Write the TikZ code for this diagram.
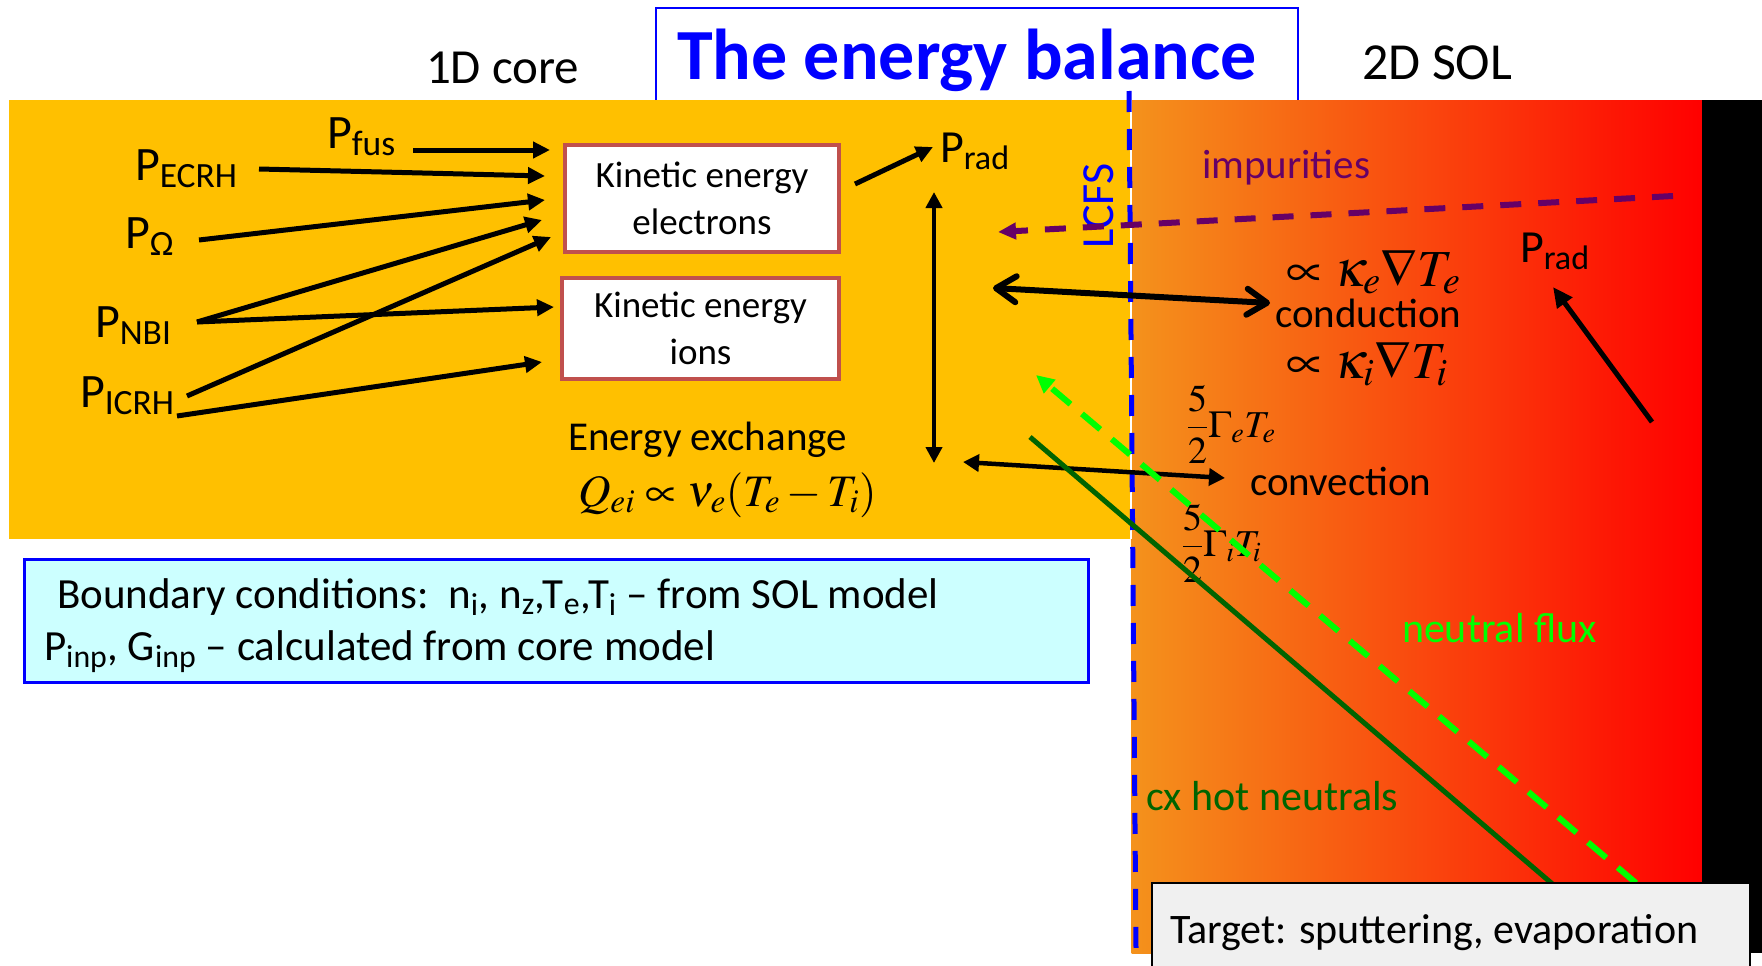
\documentclass[tikz,border=0pt]{standalone}
\usepackage{mathptmx}
\usepackage[no-math]{fontspec}
\setmainfont{Carlito}
\usetikzlibrary{arrows.meta}
\definecolor{coreorange}{RGB}{255,192,0}
\definecolor{solorange}{RGB}{244,146,28}
\definecolor{boxred}{RGB}{192,80,77}
\definecolor{imppurple}{RGB}{102,0,102}
\definecolor{nfgreen}{RGB}{0,255,0}
\definecolor{cxgreen}{RGB}{0,100,0}
\definecolor{bcfill}{RGB}{204,255,255}
\definecolor{tgfill}{RGB}{240,240,240}
\newcommand\fsz[1]{\fontsize{#1}{#1}\selectfont}
\begin{document}
\begin{tikzpicture}[x=1pt,y=-1pt,
  lbl/.style={inner sep=0pt, outer sep=0pt, anchor=base west},
  kbox/.style={draw=boxred, line width=4pt, fill=white, align=center,
     font=\fontsize{37}{47}\selectfont, inner sep=0pt},
  inarrow/.style={line width=5pt, -{Triangle[length=17pt,width=16pt]}},
  dblarrow/.style={line width=4pt, {Triangle[length=16pt,width=16pt]}-{Triangle[length=16pt,width=16pt]}},
  barbarrow/.style={line width=6pt, {Straight Barb[length=20pt,width=26pt,round]}-{Straight Barb[length=20pt,width=26pt,round]}},
  lcfsline/.style={blue, line width=5pt, dash pattern=on 21pt off 17pt},
]
\useasboundingbox (0,0) rectangle (1762,966);
\fill[white] (0,0) rectangle (1762,966);
% title box and backgrounds
\draw[blue, line width=2pt, fill=white] (656,8) rectangle (1298,110);
\fill[coreorange] (9,100) rectangle (1130,539);
\shade[left color=solorange, right color=red] (1131.5,100) rectangle (1702,953);
\fill[black] (1702,100) rectangle (1762,953);
\draw[white, line width=1.5pt] (1131,100) -- (1131,539);

% headers
\node[font=\fsz{72}\bfseries, text=blue, anchor=base, inner sep=0pt] (title) at (967,80) {The energy balance};
\node[lbl, font=\fsz{49}] (core) at (426,84) {1D core};
\node[lbl, font=\fsz{52}] (sol) at (1362,80) {2D SOL};

% LCFS
\coordinate (lcfsTop) at (1129,91);
\coordinate (lcfsBot) at (1136,948);
\draw[lcfsline] (lcfsTop) -- (lcfsBot);
\node[font=\fsz{46}, text=blue, rotate=90, inner sep=0pt] (lcfs) at (1099,206) {LCFS};

% power sources
\node[lbl,font=\fsz{48}] (pfus) at (327,148) {P\textsubscript{fus}};
\node[lbl,font=\fsz{48}] (pecrh) at (135,180) {P\textsubscript{ECRH}};
\node[lbl,font=\fsz{48}] (pohm) at (125,248) {P\textsubscript{Ω}};
\node[lbl,font=\fsz{48}] (pnbi) at (95,337) {P\textsubscript{NBI}};
\node[lbl,font=\fsz{48}] (picrh) at (80,407) {P\textsubscript{ICRH}};
\node[lbl,font=\fsz{46}] (pradc) at (940,162) {P\textsubscript{rad}};
\node[lbl,font=\fsz{46}] (prads) at (1520,262) {P\textsubscript{rad}};

% kinetic boxes
\node[kbox, minimum width=274pt, minimum height=107pt] (kel) at (702,198.5) {Kinetic energy\\electrons};
\node[kbox, minimum width=277pt, minimum height=101pt] (kion) at (700.5,328.5) {Kinetic energy\\ions};

\node[lbl,font=\fsz{41}] (eex) at (568,450) {Energy exchange};
\node[lbl,font=\fsz{45}] (qei) at (578,506) {$Q_{ei}\propto\nu_e(T_e-T_i)$};

% SOL texts
\node[lbl,font=\fsz{41},text=imppurple] (imp) at (1202,178) {impurities};
\node[lbl,font=\fsz{52}] (kape) at (1286,286) {$\propto\kappa_e\nabla T_e$};
\node[lbl,font=\fsz{41}] (cond) at (1275,327) {conduction};
\node[lbl,font=\fsz{52}] (kapi) at (1286,378) {$\propto\kappa_i\nabla T_i$};
\node[lbl,font=\fsz{38}] (gte) at (1187,437) {${\displaystyle\frac{5}{2}}\Gamma_e T_e$};
\node[lbl,font=\fsz{41}] (conv) at (1250,495) {convection};
\node[lbl,font=\fsz{38}] (gti) at (1182,556) {${\displaystyle\frac{5}{2}}\Gamma_i T_i$};
\node[lbl,font=\fsz{42},text=nfgreen] (nflux) at (1402,642) {neutral flux};
\node[lbl,font=\fsz{42},text=cxgreen] (cxhot) at (1146,810) {cx hot neutrals};

% input arrows
\coordinate (fusT) at (413,150);  \coordinate (fusH) at (550,150);
\coordinate (ecrhT) at (259,169); \coordinate (ecrhH) at (545,176);
\coordinate (ohmT) at (199,240);  \coordinate (ohmH) at (545,200);
\coordinate (nbiT) at (197,322);  \coordinate (nbiHe) at (542,220); \coordinate (nbiHi) at (554,307);
\coordinate (icrhTe) at (187,396); \coordinate (icrhHe) at (551,237);
\coordinate (icrhTi) at (177,416); \coordinate (icrhHi) at (542,362);
\draw[inarrow] (fusT) -- (fusH);
\draw[inarrow] (ecrhT) -- (ecrhH);
\draw[inarrow] (ohmT) -- (ohmH);
\draw[inarrow] (nbiT) -- (nbiHe);
\draw[inarrow] (nbiT) -- (nbiHi);
\draw[inarrow] (icrhTe) -- (icrhHe);
\draw[inarrow] (icrhTi) -- (icrhHi);

% radiation from electrons
\coordinate (radT) at (855,184); \coordinate (radH) at (933,147);
\draw[inarrow] (radT) -- (radH);

% energy exchange vertical
\coordinate (vTop) at (934,192); \coordinate (vBot) at (934,463);
\draw[dblarrow] (vTop) -- (vBot);

% impurities
\coordinate (impT) at (1673,196); \coordinate (impH) at (998,232);
\draw[imppurple, line width=6pt, dash pattern=on 21pt off 17pt, -{Triangle[length=18pt,width=16pt]}] (impT) -- (impH);

% conduction
\coordinate (condL) at (993,288); \coordinate (condR) at (1270,303);
\draw[barbarrow] (condL) -- (condR);

% convection
\coordinate (convL) at (963,462); \coordinate (convR) at (1225,478);
\draw[line width=4.5pt, {Triangle[length=16pt,width=17pt]}-{Triangle[length=16pt,width=17pt]}] (convL) -- (convR);

% neutrals
\coordinate (cxT) at (1030,437); \coordinate (cxB) at (1556,887);
\draw[cxgreen, line width=5pt] (cxT) -- (cxB);
\coordinate (nfT) at (1636,883); \coordinate (nfH) at (1036,375);
\draw[nfgreen, line width=6pt, dash pattern=on 24pt off 15pt, -{Triangle[length=18pt,width=17pt]}] (nfT) -- (nfH);

% SOL radiation
\coordinate (sradT) at (1652,422); \coordinate (sradH) at (1553,287);
\draw[line width=5pt, -{Triangle[length=20pt,width=18pt]}] (sradT) -- (sradH);

% boundary conditions box
\node[draw=blue, line width=3pt, fill=bcfill, minimum width=1064pt, minimum height=123pt, inner sep=0pt] (bc) at (556,620.5) {};
\node[lbl,font=\fsz{43}] (bc1) at (57,608) {Boundary conditions:\ \ n\textsubscript{i}, n\textsubscript{z},T\textsubscript{e},T\textsubscript{i} – from SOL model};
\node[lbl,font=\fsz{43}] (bc2) at (44,660) {P\textsubscript{inp}, G\textsubscript{inp} – calculated from core model};

% target box
\node[draw=black, line width=2pt, fill=tgfill, anchor=north west, minimum width=598pt, minimum height=100pt, inner sep=0pt] (tg) at (1151,882) {};
\node[lbl,font=\fsz{42}] (tgt) at (1170,943) {Target: sputtering, evaporation};
\end{tikzpicture}
\end{document}
